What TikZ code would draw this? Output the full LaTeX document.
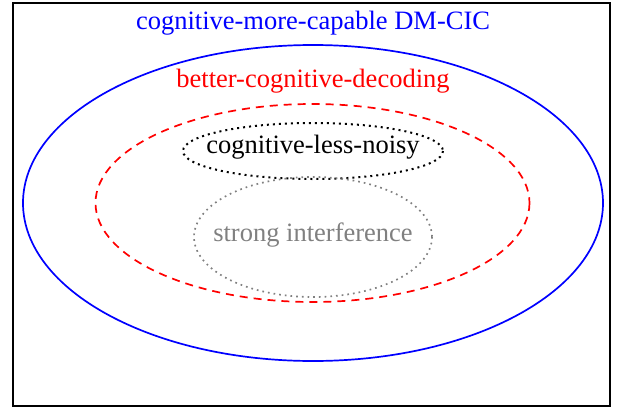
\documentclass[tikz,border=0pt]{standalone}
\usepackage{fontspec}
\setmainfont{Liberation Serif}
\begin{document}
\begin{tikzpicture}[x=0.5pt,y=-0.5pt,
  lbl/.style={font=\fontsize{13.25}{15}\selectfont, inner sep=0pt, anchor=base}]
\useasboundingbox (0,0) rectangle (618,408);
\node[draw, line width=1pt, minimum width=298.5pt, minimum height=201.5pt, inner sep=0pt] (frame) at (311.5,204) {};
\draw[blue, line width=0.85pt] (313,203) ellipse [x radius=290, y radius=158];
\draw[red, dashed, line width=0.85pt, dash pattern=on 4pt off 3pt] (312.5,203) ellipse [x radius=217, y radius=99];
\draw[black, dotted, line width=1pt] (313,151) ellipse [x radius=130, y radius=28];
\draw[gray, dotted, line width=0.85pt] (313,237) ellipse [x radius=119, y radius=60];
\node[lbl, text=blue] (t1) at (313,29) {cognitive-more-capable DM-CIC};
\node[lbl, text=red] (t2) at (313,87) {better-cognitive-decoding};
\node[lbl, text=black] (t3) at (313,153) {cognitive-less-noisy};
\node[lbl, text=gray] (t4) at (313,241) {strong interference};
\end{tikzpicture}
\end{document}
